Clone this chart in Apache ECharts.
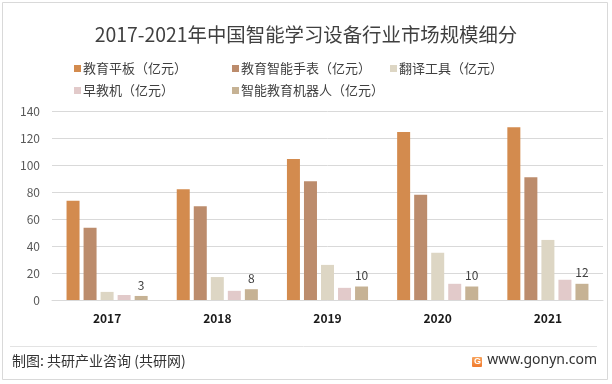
<!DOCTYPE html>
<html>
<head>
<meta charset="utf-8">
<script src="https://cdn.jsdelivr.net/npm/echarts@6/dist/echarts.min.js"></script>
<style>
html,body{margin:0;padding:0;background:#fff;}
#c{width:612px;height:384px;}
</style>
</head>
<body>
<div id="c"></div>
<script>
const categories = ['2017', '2018', '2019', '2020', '2021'];
const seriesNames = ['教育平板（亿元）', '教育智能手表（亿元）', '翻译工具（亿元）', '早教机（亿元）', '智能教育机器人（亿元）'];
const tablet = [73.5, 82, 104.5, 124.5, 128];
const watch = [53.5, 69.5, 88, 78, 91];
const translator = [6, 17, 26, 35, 44.5];
const earlyEdu = [3.7, 6.8, 9, 12, 15];
const robot = [3, 8, 10, 10, 12];
const yTicks = [0, 20, 40, 60, 80, 100, 120, 140];
const colors = ['#D38B4E', '#BC8C6C', '#DDD6C4', '#E2CACA', '#C6B294'];
const titleText = '2017-2021年中国智能学习设备行业市场规模细分';
const sourceText = '制图: 共研产业咨询 (共研网)';
const siteText = 'www.gonyn.com';

const font = '"Noto Sans CJK SC", "Microsoft YaHei", sans-serif';
const allData = [tablet, watch, translator, earlyEdu, robot];
const legendPos = [[74, 62], [232, 62], [390, 62], [74, 84], [232, 84]];

const chart = echarts.init(document.getElementById('c'), null, {renderer: 'canvas'});
const option = {
  backgroundColor: '#fff',
  animation: false,
  title: {
    text: titleText, left: 'center', top: 20,
    textStyle: {fontFamily: font, fontSize: 19.4, fontWeight: 'normal', color: '#404040'}
  },
  legend: seriesNames.map((n, i) => ({
    data: [n], left: legendPos[i][0], top: legendPos[i][1],
    itemWidth: 7, itemHeight: 7, itemGap: 0, icon: 'rect', padding: 0,
    textStyle: {fontFamily: font, fontSize: 13, color: '#404040', padding: [0, 0, 0, -3]}
  })),
  grid: {left: 52, right: 9, top: 111, bottom: 84},
  xAxis: {
    type: 'category', data: categories,
    axisLine: {lineStyle: {color: '#D9D9D9', width: 1}},
    axisTick: {show: false},
    axisLabel: {fontFamily: font, fontSize: 12, fontWeight: 'bold', color: '#1a1a1a', margin: 12}
  },
  yAxis: {
    type: 'value', min: yTicks[0], max: yTicks[yTicks.length - 1], interval: 20,
    axisLine: {show: false}, axisTick: {show: false},
    splitLine: {lineStyle: {color: '#D9D9D9', width: 1}},
    axisLabel: {fontFamily: font, fontSize: 12, color: '#595959', margin: 12}
  },
  series: seriesNames.map((n, i) => ({
    name: n, type: 'bar', data: allData[i],
    barWidth: 13, barGap: '31%',
    itemStyle: {color: colors[i]},
    label: i === 4 ? {show: true, position: 'top', distance: 5, fontFamily: font, fontSize: 12, color: '#404040'} : {show: false}
  })),
  graphic: [
    {type: 'rect', shape: {x: 2.5, y: 2.5, width: 605, height: 377}, style: {fill: 'none', stroke: '#D9D9D9', lineWidth: 1}, silent: true, z: -1},
    {type: 'line', shape: {x1: 10, y1: 346.5, x2: 597, y2: 346.5}, style: {stroke: '#E3E3E3', lineWidth: 1}},
    {type: 'text', left: 12, top: 354, style: {text: sourceText, font: '14px ' + font, fill: '#333'}},
    {type: 'text', right: 15, top: 353, style: {text: siteText, font: '14px "Noto Sans", sans-serif', fill: '#333'}},
    {type: 'rect', shape: {x: 472, y: 357, width: 10, height: 10, r: 1},
      style: {fill: new echarts.graphic.LinearGradient(0, 0, 0, 1, [{offset: 0, color: '#F7A35C'}, {offset: 1, color: '#F07A2E'}])}},
    {type: 'text', x: 474, y: 357, style: {text: 'G', font: 'bold 9px sans-serif', fill: '#fff'}}
  ]
};
chart.setOption(option);
</script>
</body>
</html>
